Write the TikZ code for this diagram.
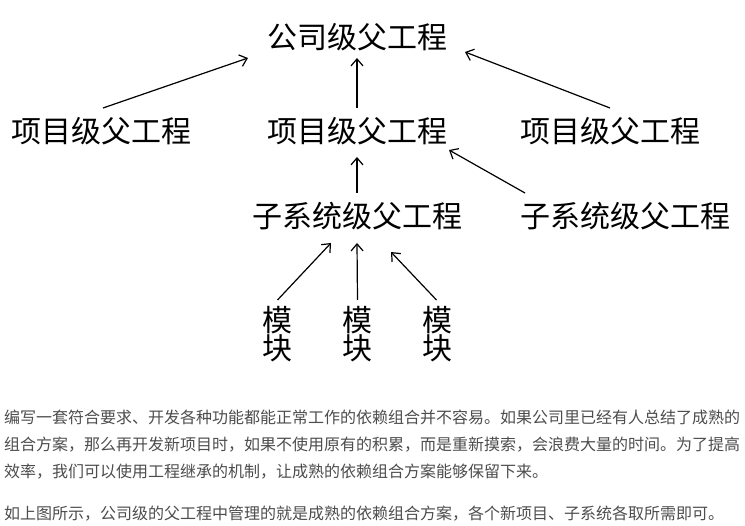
\documentclass[tikz,border=0pt]{standalone}
\usepackage{fontspec}
\setmainfont{Noto Sans CJK SC}
\usetikzlibrary{arrows.meta}
\definecolor{paragray}{HTML}{4D4D4D}
\begin{document}
\begin{tikzpicture}[x=1pt,y=-1pt,
  big/.style={inner sep=0pt, font=\fontsize{30}{30}\selectfont, text=black},
  modbox/.style={inner sep=0pt, align=center, font=\fontsize{30}{28.5}\selectfont, text=black},
  para/.style={inner sep=0pt, anchor=west, font=\fontsize{16}{16}\selectfont, text=paragray},
  arr/.style={line width=1.2pt, -{Straight Barb[length=7pt,width=12pt,line width=1.2pt]}}]
\useasboundingbox[fill=white] (0,0) rectangle (745,526);
% diagram nodes
\node[big] (top) at (357,37) {公司级父工程};
\node[big] (p1) at (102,131) {项目级父工程};
\node[big] (p2) at (357,131) {项目级父工程};
\node[big] (p3) at (610,131) {项目级父工程};
\node[big] (s1) at (357,216) {子系统级父工程};
\node[big] (s2) at (625,216) {子系统级父工程};
\node[modbox] (m1) at (277.5,334) {模\\块};
\node[modbox] (m2) at (357.5,334) {模\\块};
\node[modbox] (m3) at (437,334) {模\\块};
% connectors
\draw[arr] ([shift={(1,-23)}]p1.center) -- ([shift={(-109,21)}]top.center);
\draw[arr] ([shift={(0,-23)}]p2.center) -- ([shift={(0,21)}]top.center);
\draw[arr] ([shift={(0,-23)}]p3.center) -- ([shift={(108,15)}]top.center);
\draw[arr] ([shift={(0,-23)}]s1.center) -- ([shift={(0,26)}]p2.center);
\draw[arr] ([shift={(-100,-23)}]s2.center) -- ([shift={(92,19)}]p2.center);
\draw[arr] ([shift={(0,-34)}]m1.center) -- ([shift={(-26,27)}]s1.center);
\draw[arr] ([shift={(0,-34)}]m2.center) -- ([shift={(0,27)}]s1.center);
\draw[arr] ([shift={(-0.5,-34)}]m3.center) -- ([shift={(34,36)}]s1.center);
% paragraph
\node[para] (l1) at (4,417) {编写一套符合要求、开发各种功能都能正常工作的依赖组合并不容易。如果公司里已经有人总结了成熟的};
\node[para] (l2) at (4,445) {组合方案，那么再开发新项目时，如果不使用原有的积累，而是重新摸索，会浪费大量的时间。为了提高};
\node[para] (l3) at (4,472) {效率，我们可以使用工程继承的机制，让成熟的依赖组合方案能够保留下来。};
\node[para] (l4) at (4,514) {如上图所示，公司级的父工程中管理的就是成熟的依赖组合方案，各个新项目、子系统各取所需即可。};
\end{tikzpicture}
\end{document}
